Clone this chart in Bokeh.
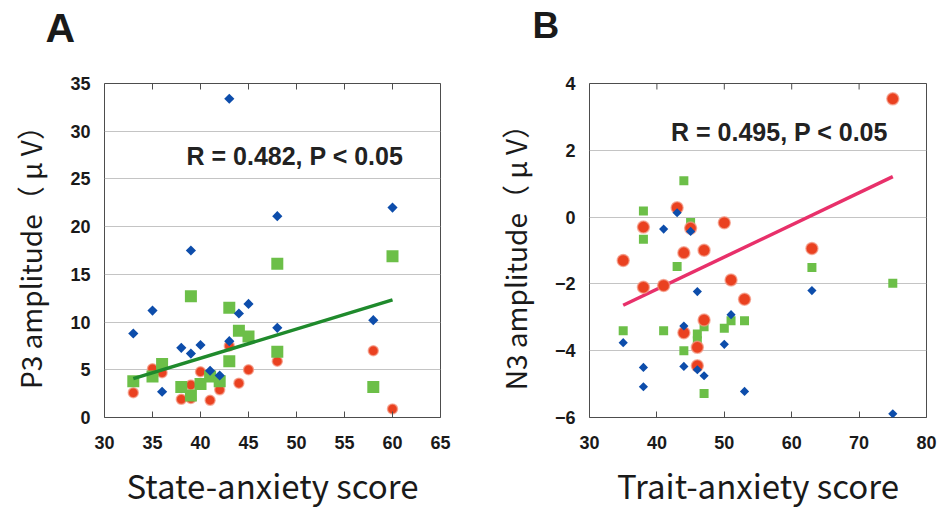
import numpy as np
from bokeh.plotting import figure
from bokeh.layouts import row
from bokeh.models import FixedTicker, Label, Range1d, Title
from bokeh.embed import file_html
from bokeh.resources import INLINE

# ---------------- Panel A: State-anxiety vs P3 amplitude ----------------
a_blue_x = [33, 35, 36, 38, 39, 39, 40, 41, 42, 43, 43, 44, 45, 48, 48, 58, 60]
a_blue_y = [8.8, 11.2, 2.7, 7.3, 17.5, 6.7, 7.6, 4.9, 4.4, 33.4, 8.0, 10.9, 11.9, 21.1, 9.4, 10.2, 22.0]
a_green_x = [33, 35, 36, 38, 39, 39, 40, 41, 42, 43, 43, 44, 45, 48, 48, 58, 60]
a_green_y = [3.8, 4.3, 5.6, 3.2, 12.7, 2.3, 3.5, 4.3, 3.8, 11.5, 5.9, 9.1, 8.5, 16.1, 6.9, 3.2, 16.9]
a_red_x = [33, 35, 36, 38, 39, 39, 40, 41, 42, 43, 44, 45, 48, 58, 60]
a_red_y = [2.6, 5.1, 4.7, 1.9, 3.4, 2.0, 4.8, 1.8, 2.9, 7.5, 3.6, 5.0, 5.9, 7.0, 0.9]
a_fit_x = [33, 60]
a_fit_y = [4.07, 12.33]
a_xticks = [30, 35, 40, 45, 50, 55, 60, 65]
a_yticks = [0, 5, 10, 15, 20, 25, 30, 35]

# ---------------- Panel B: Trait-anxiety vs N3 amplitude ----------------
b_red_x = [35, 38, 38, 41, 43, 44, 44, 45, 46, 46, 47, 47, 50, 51, 53, 63, 75]
b_red_y = [-1.3, -0.3, -2.1, -2.05, 0.28, -1.07, -3.46, -0.33, -3.9, -4.45, -0.99, -3.08, -0.17, -1.88, -2.46, -0.94, 3.54]
b_blue_x = [35, 38, 38, 41, 43, 44, 44, 45, 46, 46, 47, 50, 51, 53, 63, 75]
b_blue_y = [-3.76, -4.5, -5.08, -0.36, 0.13, -3.26, -4.47, -0.43, -2.23, -4.57, -4.75, -3.81, -2.92, -5.22, -2.2, -5.89]
b_green_x = [35, 38, 38, 41, 43, 44, 44, 45, 46, 46, 47, 47, 50, 51, 53, 63, 75]
b_green_y = [-3.4, 0.18, -0.66, -3.4, -1.48, 1.09, -4.0, -0.16, -3.5, -3.7, -3.28, -5.28, -3.33, -3.1, -3.1, -1.51, -1.98]
b_fit_x = [35, 75]
b_fit_y = [-2.64, 1.21]
b_xticks = [30, 40, 50, 60, 70, 80]
b_yticks = [-6, -4, -2, 0, 2, 4]

BLUE = "#0d4dab"
GREEN = "#6cbf48"
RED = "#ea4120"
TICK_FONT = "Liberation Sans"
TITLE_FONT = "Noto Sans CJK JP"
FRAME = "#4d4d4d"


def style(p, xticks, yticks, xlabel, ylabel, letter, letter_size, letter_offset,
          letter_lift, y_overrides=None):
    p.outline_line_color = FRAME
    p.outline_line_width = 1
    p.background_fill_color = "white"
    p.border_fill_color = "white"
    p.xgrid.visible = False
    p.ygrid.ticker = FixedTicker(ticks=yticks)
    p.ygrid.grid_line_color = "#c4c4c4"
    p.ygrid.grid_line_width = 1

    xa = p.xaxis[0]
    xa.ticker = FixedTicker(ticks=xticks)
    xa.major_tick_in = 6
    xa.major_tick_out = 0
    xa.major_tick_line_color = FRAME
    xa.minor_tick_line_color = None
    xa.axis_line_color = None
    xa.major_label_standoff = 18
    xa.major_label_text_font = TICK_FONT
    xa.major_label_text_font_style = "bold"
    xa.major_label_text_font_size = "18px"
    xa.major_label_text_color = "#1a1a1a"
    xa.axis_label = xlabel
    xa.axis_label_text_font = TITLE_FONT
    xa.axis_label_text_font_size = "33px"
    xa.axis_label_text_font_style = "normal"
    xa.axis_label_text_color = "#1a1a1a"
    xa.axis_label_standoff = 9

    ya = p.yaxis[0]
    ya.ticker = FixedTicker(ticks=yticks)
    ya.major_tick_in = 0
    ya.major_tick_out = 0
    ya.minor_tick_line_color = None
    ya.axis_line_color = None
    ya.major_label_standoff = 14
    ya.major_label_text_font = TICK_FONT
    ya.major_label_text_font_style = "bold"
    ya.major_label_text_font_size = "18px"
    ya.major_label_text_color = "#1a1a1a"
    if y_overrides:
        ya.major_label_overrides = y_overrides
    ya.axis_label = ylabel
    ya.axis_label_text_font = TITLE_FONT
    ya.axis_label_text_font_size = "28px"
    ya.axis_label_text_font_style = "normal"
    ya.axis_label_text_color = "#1a1a1a"
    ya.axis_label_standoff = 17

    # panel letter as a title above the frame, lifted by bottom padding
    p.title = None
    t = Title(text=letter, text_font=TICK_FONT, text_font_style="bold",
              text_font_size=letter_size, text_color="#1a1a1a", align="left",
              offset=letter_offset, standoff=0)
    try:
        t.padding = dict(left=0, right=0, top=0, bottom=letter_lift)
    except Exception:
        t.standoff = letter_lift
    p.add_layout(t, "above")

    # tick marks on the top edge of the frame (pointing inward)
    top = p.y_range.end
    p.scatter(xticks, [top] * len(xticks), marker="dash", angle=np.pi / 2, size=12,
              line_color=FRAME, line_width=1)


# ---------------- Figure A ----------------
pA = figure(width=480, height=511, output_backend="svg", toolbar_location=None,
            x_range=Range1d(30, 65), y_range=Range1d(0, 35),
            min_border_left=104, min_border_right=40, min_border_top=83, min_border_bottom=92)
style(pA, a_xticks, a_yticks, "State-anxiety score", "P3 amplitude（ μ V）",
      "A", "41px", -59, 33)

pA.scatter(a_red_x, a_red_y, marker="circle", size=10, fill_color=RED,
           line_color="#f39a86", line_width=1.5, line_alpha=0.7)
pA.scatter(a_green_x, a_green_y, marker="square", size=12, fill_color=GREEN, line_color=None)
pA.scatter(a_blue_x, a_blue_y, marker="square", angle=np.pi / 4, size=7.2,
           fill_color=BLUE, line_color=None)
pA.line(a_fit_x, a_fit_y, line_color="#1f8a2c", line_width=3.5)

pA.add_layout(Label(x=38.54, y=27.4, text="R = 0.482, P < 0.05", text_font=TICK_FONT,
                    text_font_style="bold", text_font_size="25px", text_color="#222222",
                    text_baseline="alphabetic"))

# ---------------- Figure B ----------------
pB = figure(width=460, height=511, output_backend="svg", toolbar_location=None,
            x_range=Range1d(30, 80), y_range=Range1d(-6, 4),
            min_border_left=109, min_border_right=14, min_border_top=83, min_border_bottom=89)
neg = {-6: "−6", -4: "−4", -2: "−2"}
style(pB, b_xticks, b_yticks, "Trait-anxiety score", "N3 amplitude（ μ V）",
      "B", "37px", -57, 38, neg)

pB.line(b_fit_x, b_fit_y, line_color="#e8306a", line_width=3.5)
pB.scatter(b_green_x, b_green_y, marker="square", size=9, fill_color=GREEN, line_color=None)
pB.scatter(b_red_x, b_red_y, marker="circle", size=12, fill_color=RED,
           line_color="#f39a86", line_width=1.5, line_alpha=0.7)
pB.scatter(b_blue_x, b_blue_y, marker="square", angle=np.pi / 4, size=6.5,
           fill_color=BLUE, line_color=None)

pB.add_layout(Label(x=42.1, y=2.56, text="R = 0.495, P < 0.05", text_font=TICK_FONT,
                    text_font_style="bold", text_font_size="25px", text_color="#222222",
                    text_baseline="alphabetic"))

layout = row(pA, pB)
open("out.html", "w").write(file_html(layout, INLINE))
